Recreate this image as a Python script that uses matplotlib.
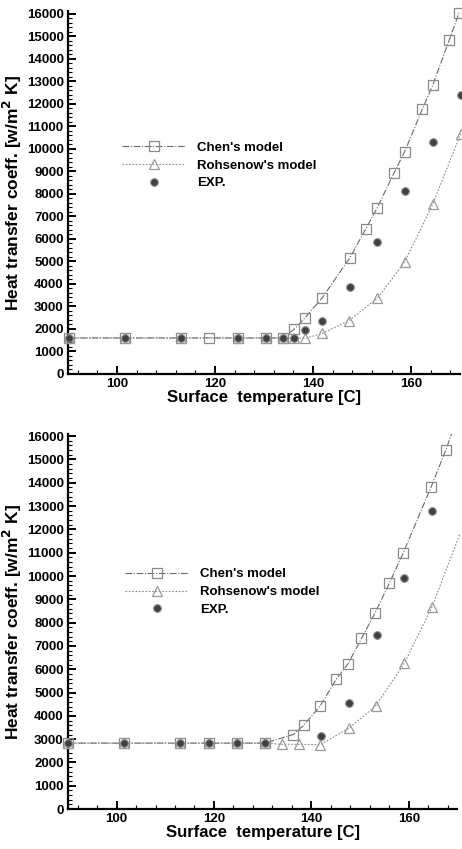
import numpy as np
import matplotlib
matplotlib.use('Agg')
import matplotlib.pyplot as plt
from matplotlib.ticker import MultipleLocator

plt.rcParams['font.family'] = ['Liberation Sans', 'DejaVu Sans']

# ---- upper panel ----
chen1_x = [90.3, 101.7, 113.0, 118.8, 124.6, 130.4, 133.9, 136.2, 138.3, 141.9,
           147.5, 150.7, 153.1, 156.5, 158.7, 162.3, 164.4, 167.8, 169.8]
chen1_y = [1600, 1600, 1600, 1600, 1600, 1600, 1600, 2000, 2480, 3390,
           5160, 6420, 7390, 8920, 9880, 11770, 12820, 14840, 16050]
roh1_x = [90.3, 101.7, 113.0, 124.6, 130.4, 133.9, 136.2, 138.3, 141.9, 147.3,
          153.1, 158.7, 164.4, 170.1]
roh1_y = [1600, 1600, 1600, 1600, 1600, 1600, 1600, 1580, 1800, 2370,
          3360, 4980, 7540, 10660]
exp1_x = [90.3, 101.7, 113.0, 124.6, 130.4, 133.9, 136.2, 138.3, 141.9, 147.5,
          153.1, 158.7, 164.4, 170.1]
exp1_y = [1600, 1600, 1600, 1600, 1600, 1600, 1600, 1960, 2370, 3850,
          5870, 8130, 10300, 12400]

# ---- lower panel ----
chen2_x = [90.0, 101.6, 113.1, 119.0, 124.7, 130.5, 136.3, 138.5, 141.8, 145.1,
           147.5, 150.3, 153.1, 156.0, 158.9, 164.6, 167.6, 168.8]
chen2_y = [2830, 2830, 2830, 2830, 2830, 2830, 3200, 3610, 4420, 5570,
           6220, 7320, 8420, 9680, 11000, 13820, 15390, 16100]
roh2_x = [90.0, 101.6, 113.1, 119.0, 124.7, 130.5, 134.0, 137.5, 141.8, 147.7,
          153.2, 159.1, 164.8, 170.5]
roh2_y = [2830, 2830, 2830, 2830, 2830, 2830, 2780, 2780, 2760, 3470,
          4420, 6250, 8680, 11800]
exp2_x = [90.0, 101.6, 113.1, 119.0, 124.7, 130.5, 142.0, 147.7, 153.4, 159.1, 164.8]
exp2_y = [2830, 2830, 2830, 2830, 2830, 2830, 3140, 4570, 7470, 9930, 12790]

labels = ["Chen's model", "Rohsenow's model", "EXP."]
xticks = [100, 120, 140, 160]

fig = plt.figure(figsize=(4.62, 8.49), dpi=100)
ax1 = fig.add_axes([0.147, 0.5595, 0.849, 0.427])
ax2 = fig.add_axes([0.147, 0.047, 0.843, 0.442])


def draw_panel(ax, cx, cy, rx, ry, ex, ey, chen_skip_last, roh_skip_last, leg_xy, ylab_x):
    nc = len(cx) - 1 if chen_skip_last else len(cx)
    nr = len(rx) - 1 if roh_skip_last else len(rx)
    ax.plot(cx, cy, color='#6a6a6a', lw=0.8, ls=(0, (6, 1.5, 1, 1.5)),
            marker='s', ms=7.5, mfc='none', mec='#8a8a8a', mew=0.9,
            markevery=list(range(nc)), clip_on=False, label=labels[0], zorder=3)
    ax.plot(rx, ry, color='#8a8a8a', lw=0.8, ls=(0, (1.5, 1.5)),
            marker='^', ms=7.5, mfc='none', mec='#9a9a9a', mew=0.9,
            markevery=list(range(nr)), clip_on=False, label=labels[1], zorder=3)
    ax.plot(ex, ey, ls='none', marker='o', ms=5.5, mfc='#404040', mec='#8a8a8a',
            mew=0.8, clip_on=False, label=labels[2], zorder=4)

    ax.set_xlim(90, 170)
    ax.set_ylim(0, 16100)
    ax.set_xticks(xticks)
    ax.xaxis.set_minor_locator(MultipleLocator(4))
    ax.yaxis.set_major_locator(MultipleLocator(1000))
    ax.yaxis.set_minor_locator(MultipleLocator(200))
    ax.tick_params(which='both', direction='in', top=False, right=False)
    ax.tick_params(which='major', length=6, width=1.4, labelsize=9.5, pad=3)
    ax.tick_params(which='minor', length=3, width=0.8)
    for lab in ax.get_xticklabels() + ax.get_yticklabels():
        lab.set_fontweight('semibold')
    for s in ['top', 'right']:
        ax.spines[s].set_visible(False)
    for s in ['left', 'bottom']:
        ax.spines[s].set_linewidth(1.6)
    ax.set_xlabel('Surface  temperature [C]', fontsize=12, fontweight='bold', labelpad=0)
    ax.set_ylabel('Heat transfer coeff. [w/m$^\\mathbf{2}$ K]', fontsize=12.5,
                  fontweight='bold')
    ax.yaxis.set_label_coords(ylab_x, 0.5)
    ax.legend(loc='upper left', bbox_to_anchor=leg_xy, frameon=False,
              prop={'size': 9.5, 'weight': 'bold'}, handlelength=4.8,
              handletextpad=0.9, labelspacing=0.42, borderpad=0, borderaxespad=0)


draw_panel(ax1, chen1_x, chen1_y, roh1_x, roh1_y, exp1_x, exp1_y, False, False,
           (0.138, 0.641), -0.113)
draw_panel(ax2, chen2_x, chen2_y, roh2_x, roh2_y, exp2_x, exp2_y, True, True,
           (0.147, 0.642), -0.114)

fig.savefig('out.png', dpi=100)
